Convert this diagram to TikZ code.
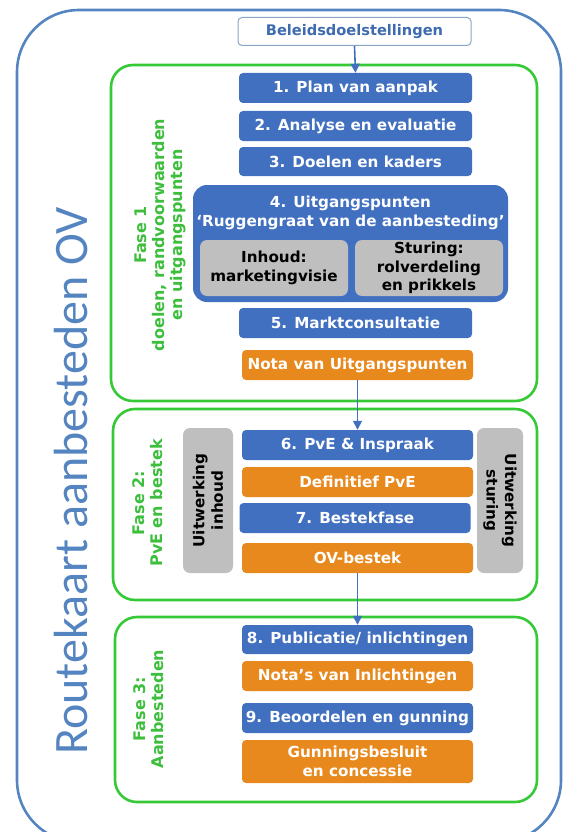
\documentclass[tikz,border=0pt]{standalone}
\usepackage{fontspec}
\setmainfont{DejaVu Sans}
\newfontfamily\titlefont{Carlito}
\usetikzlibrary{arrows.meta}
\definecolor{bxblue}{HTML}{4170C0}
\definecolor{bxorange}{HTML}{E8891E}
\definecolor{bxgrey}{HTML}{BFBFBF}
\definecolor{fgreen}{HTML}{36C936}
\definecolor{ftext}{HTML}{3DBE3D}
\definecolor{outblue}{HTML}{5485C0}
\definecolor{beltext}{HTML}{3E6BB0}
\definecolor{belline}{HTML}{8AA6C6}
\tikzset{
  base/.style={rounded corners=4pt, inner sep=0pt, align=center, font=\fontsize{15.2}{18.5}\selectfont\bfseries},
  bluebox/.style={base, fill=bxblue, text=white},
  orangebox/.style={base, fill=bxorange, text=white},
  greybox/.style={base, fill=bxgrey, text=black, rounded corners=7pt},
  phase/.style={draw=fgreen, line width=2.6pt, rounded corners=22pt},
  phasetext/.style={text=ftext, align=center, font=\fontsize{16}{18}\selectfont\bfseries, rotate=90},
  flow/.style={draw=bxblue, line width=1.6pt, -{Triangle[length=9pt,width=9pt]}}
}
\begin{document}
\begin{tikzpicture}[x=1pt,y=-1pt]
\useasboundingbox (0,0) rectangle (564,832);
% outer frame
\begin{scope}
\clip (0,0) rectangle (564,832);
\draw[outblue, line width=2.6pt, rounded corners=62pt] (17,10) rectangle (561,842);
\end{scope}
\node[text=outblue, rotate=90, font=\titlefont\fontsize{48}{54}\selectfont] (title) at (71,481) {Routekaart aanbesteden OV};
% phase frames
\draw[phase] (111,65) rectangle (537,401);
\draw[phase] (113,409) rectangle (537,600);
\draw[phase] (115,617) rectangle (537,802);
% top
\node[base, draw=belline, line width=1pt, fill=white, text=beltext, minimum width=233pt, minimum height=28pt, font=\fontsize{14.6}{17}\selectfont\bfseries] (bel) at (354.5,31.5) {Beleidsdoelstellingen};
% fase 1
\node[phasetext] (f1) at (160,235) {Fase 1\\doelen, randvoorwaarden\\en uitgangspunten};
\node[bluebox, minimum width=233pt, minimum height=30pt] (b1) at (355.5,88) {1. Plan van aanpak};
\node[bluebox, minimum width=233pt, minimum height=30pt] (b2) at (355.5,126) {2. Analyse en evaluatie};
\node[bluebox, minimum width=233pt, minimum height=29pt] (b3) at (355.5,161.5) {3. Doelen en kaders};
\node[bluebox, rounded corners=14pt, minimum width=315pt, minimum height=117pt] (b4) at (350.5,243.5) {};
\node[base, text=white] (b4t) at (350.5,213) {4. Uitgangspunten\\‘Ruggengraat van de aanbesteding’};
\node[greybox, minimum width=148pt, minimum height=56pt] (inh) at (274,268) {Inhoud:\\marketingvisie};
\node[greybox, minimum width=148pt, minimum height=56pt] (stu) at (429,268) {Sturing:\\rolverdeling\\en prikkels};
\node[bluebox, minimum width=233pt, minimum height=30pt] (b5) at (355.5,323) {5. Marktconsultatie};
\node[orangebox, minimum width=231pt, minimum height=30pt] (nota1) at (357.5,365) {Nota van Uitgangspunten};
% fase 2
\node[phasetext] (f2) at (148,503) {Fase 2:\\PvE en bestek};
\node[greybox, minimum width=50pt, minimum height=145pt] (uinh) at (208,500.5) {};
\node[base, rotate=90, text=black] (uinht) at (uinh.center) {Uitwerking\\inhoud};
\node[greybox, minimum width=46pt, minimum height=145pt] (ustu) at (500,500.5) {};
\node[base, rotate=-90, text=black] (ustut) at (ustu.center) {Uitwerking\\sturing};
\node[bluebox, minimum width=231pt, minimum height=30pt] (b6) at (357.5,445) {6. PvE \& Inspraak};
\node[orangebox, minimum width=231pt, minimum height=30pt] (def) at (357.5,482) {Definitief PvE};
\node[bluebox, minimum width=231pt, minimum height=30pt] (b7) at (355,518) {7. Bestekfase};
\node[orangebox, minimum width=231pt, minimum height=30pt] (ovb) at (357.5,558) {OV-bestek};
% fase 3
\node[phasetext] (f3) at (149,709) {Fase 3:\\Aanbesteden};
\node[bluebox, minimum width=231pt, minimum height=29pt] (b8) at (357.5,639.5) {8. Publicatie/ inlichtingen};
\node[orangebox, minimum width=231pt, minimum height=30pt] (notas) at (357.5,676) {Nota’s van Inlichtingen};
\node[bluebox, minimum width=231pt, minimum height=30pt] (b9) at (357.5,718) {9. Beoordelen en gunning};
\node[orangebox, minimum width=231pt, minimum height=43pt] (gun) at (357.5,761.5) {Gunningsbesluit\\en concessie};
% arrows
\draw[flow] (bel.south) -- (b1.north);
\draw[flow] (nota1.south) -- (b6.north);
\draw[flow] (ovb.south) -- (b8.north);
\end{tikzpicture}
\end{document}
